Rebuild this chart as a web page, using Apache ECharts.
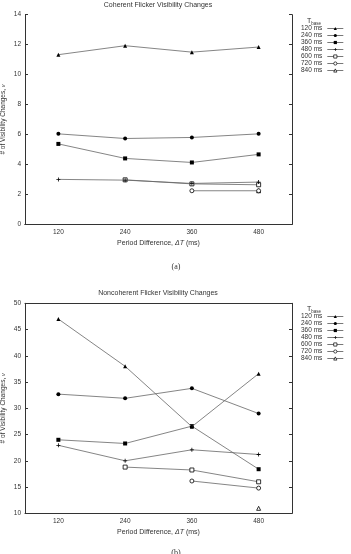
<!DOCTYPE html>
<html>
<head>
<meta charset="UTF-8" />
<title>Flicker Visibility Changes</title>
<script src="https://cdn.jsdelivr.net/npm/echarts@6/dist/echarts.min.js"></script>
<style>
  html, body { margin: 0; padding: 0; background: #fff; }
  #chart { width: 351px; height: 554px; }
</style>
</head>
<body>
<div id="chart"></div>
<script type="text/javascript">
// period difference (ms)
var periodDiff = ['120', '240', '360', '480'];
var baseNames = ['120 ms', '240 ms', '360 ms', '480 ms', '600 ms', '720 ms', '840 ms'];

// (a) coherent flicker
var coh120 = [11.33, 11.93, 11.5, 11.84];
var coh240 = [6.04, 5.73, 5.8, 6.04];
var coh360 = [5.37, 4.4, 4.13, 4.67];
var coh480 = [3.0, 2.95, 2.73, 2.82];
var coh600 = [null, 2.97, 2.7, 2.64];
var coh720 = [null, null, 2.24, 2.24];
var coh840 = [null, null, null, 2.24];

// (b) noncoherent flicker
var non120 = [47.0, 38.0, 26.5, 36.6];
var non240 = [32.7, 31.9, 33.8, 29.0];
var non360 = [24.0, 23.3, 26.6, 18.4];
var non480 = [22.95, 20.0, 22.1, 21.2];
var non600 = [null, 18.8, 18.25, 16.0];
var non720 = [null, null, 16.15, 14.8];
var non840 = [null, null, null, 10.95];

var cohData = [coh120, coh240, coh360, coh480, coh600, coh720, coh840];
var nonData = [non120, non240, non360, non480, non600, non720, non840];

var plus = 'path://M4,0H6V4H10V6H6V10H4V6H0V4H4Z';
var symbols = ['triangle', 'circle', 'rect', plus, 'rect', 'circle', 'triangle'];
var openMark = [false, false, false, false, true, true, true];

var font = '"Liberation Sans", Arial, sans-serif';
var axisCol = '#333';

function mkXAxis(gi, pos) {
    var bottom = pos == 'bottom';
    return {
        type: 'category', gridIndex: gi, position: pos, data: periodDiff,
        boundaryGap: true,
        axisLine: { lineStyle: { color: axisCol, width: 1 } },
        axisTick: { inside: true, alignWithLabel: true, length: 3, lineStyle: { color: axisCol } },
        axisLabel: { show: bottom, fontSize: 6.5, color: '#333', fontFamily: font, margin: 4 },
        name: bottom ? 'Period Difference, {i|ΔT} (ms)' : '',
        nameLocation: 'middle', nameGap: 15, nameMoveOverlap: false,
        nameTextStyle: { fontSize: 7, color: '#333', fontFamily: font,
            rich: { i: { fontSize: 7, fontStyle: 'italic', color: '#333', fontFamily: font } } },
        splitLine: { show: false }
    };
}
function mkYAxis(gi, pos, min, max, step) {
    var left = pos == 'left';
    return {
        type: 'value', gridIndex: gi, position: pos, min: min, max: max, interval: step,
        axisLine: { show: true, lineStyle: { color: axisCol, width: 1 } },
        axisTick: { show: true, inside: true, length: 3, lineStyle: { color: axisCol } },
        axisLabel: { show: left, fontSize: 6.5, color: '#333', fontFamily: font, margin: 4 },
        name: left ? '# of Visibility Changes, {i|ν}' : '',
        nameLocation: 'middle', nameGap: 18, nameMoveOverlap: false,
        nameTextStyle: { fontSize: 6.5, color: '#333', fontFamily: font,
            rich: { i: { fontSize: 5.5, fontStyle: 'italic', color: '#333', fontFamily: font } } },
        splitLine: { show: false }
    };
}

var series = [];
function addSeries(arr, xi, yi) {
    for (var i = 0; i < arr.length; i++) {
        series.push({
            name: baseNames[i], type: 'line',
            xAxisIndex: xi, yAxisIndex: yi,
            data: arr[i],
            symbol: symbols[i], symbolSize: 4,
            showSymbol: true, connectNulls: false,
            lineStyle: { color: '#666', width: 0.8 },
            itemStyle: openMark[i]
                ? { color: '#fff', borderColor: '#000', borderWidth: 0.8 }
                : { color: '#000' },
            emphasis: { disabled: true },
            z: 10 - i
        });
    }
}
addSeries(cohData, 0, 0);
addSeries(nonData, 2, 2);

function mkLegend(top) {
    return {
        data: baseNames, orient: 'vertical', left: 301, top: top,
        align: 'right', itemWidth: 16, itemHeight: 4, itemGap: 0,
        padding: 0, selectedMode: false,
        lineStyle: { width: 0.8, color: '#555' },
        itemStyle: { borderWidth: 0.7 },
        textStyle: { fontSize: 6.5, color: '#333', fontFamily: font, lineHeight: 7 }
    };
}

function txt(x, y, s, size, fam, rich) {
    return {
        type: 'text', x: x, y: y, silent: true,
        style: { text: s, fontSize: size, fontFamily: fam, fill: '#333',
            align: 'center', verticalAlign: 'middle', rich: rich }
    };
}
var tbaseRich = {
    t: { fontSize: 7, fontFamily: font, fill: '#333', color: '#333' },
    s: { fontSize: 4.5, fontFamily: font, fill: '#333', color: '#333', padding: [5, 0, 0, 0] }
};

var gridBase = { left: 25, width: 267, show: false, containLabel: false, outerBoundsMode: 'none' };
var chart = echarts.init(document.getElementById('chart'));
chart.setOption({
    animation: false,
    backgroundColor: '#fff',
    grid: [
        Object.assign({ top: 14.7, height: 209.6 }, gridBase),
        Object.assign({ top: 303.3, height: 210 }, gridBase)
    ],
    xAxis: [mkXAxis(0, 'bottom'), mkXAxis(0, 'top'), mkXAxis(1, 'bottom'), mkXAxis(1, 'top')],
    yAxis: [mkYAxis(0, 'left', 0, 14, 2), mkYAxis(0, 'right', 0, 14, 2),
            mkYAxis(1, 'left', 10, 50, 5), mkYAxis(1, 'right', 10, 50, 5)],
    legend: [mkLegend(25), mkLegend(313)],
    series: series,
    graphic: [
        txt(158, 5, 'Coherent Flicker Visibility Changes', 7, font),
        txt(158, 293.5, 'Noncoherent Flicker Visibility Changes', 7, font),
        txt(176, 267, '(a)', 8, '"Liberation Serif", "DejaVu Serif", serif'),
        txt(176, 553, '(b)', 8, '"Liberation Serif", "DejaVu Serif", serif'),
        txt(314, 21, '{t|T}{s|base}', 7, font, tbaseRich),
        txt(314, 309, '{t|T}{s|base}', 7, font, tbaseRich)
    ]
});
</script>
</body>
</html>
